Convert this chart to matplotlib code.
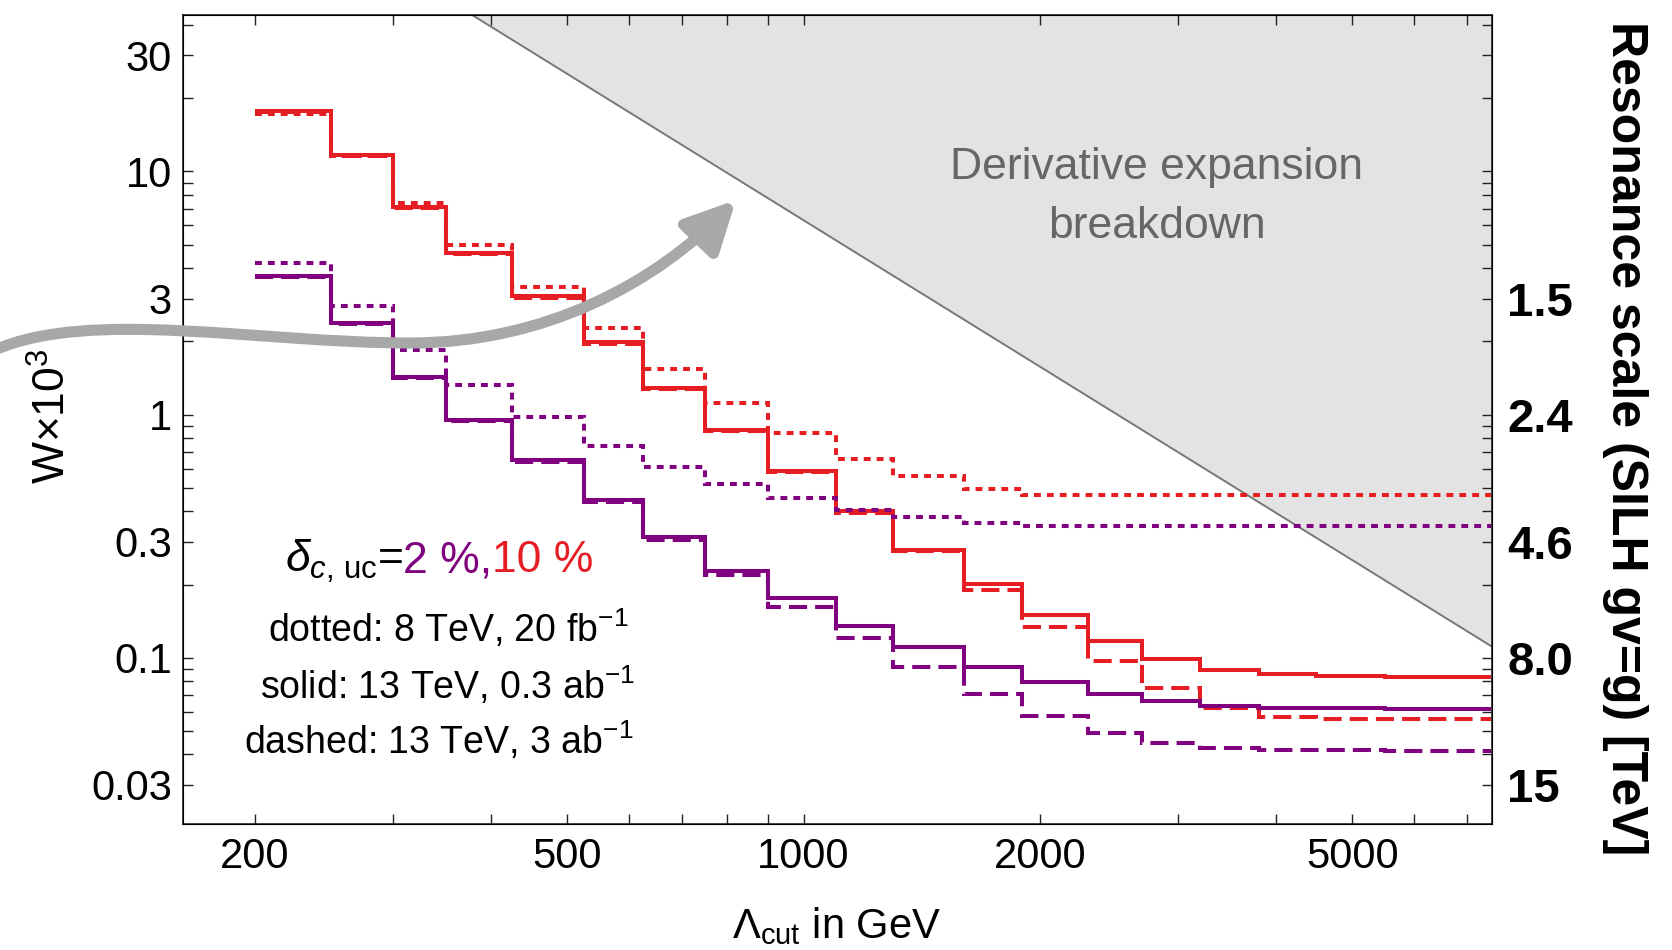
import numpy as np
import matplotlib
matplotlib.use("Agg")
import matplotlib.pyplot as plt
from matplotlib.path import Path
from matplotlib.patches import FancyArrowPatch, ArrowStyle
from matplotlib.offsetbox import TextArea, HPacker, AnchoredOffsetbox
from matplotlib.ticker import NullFormatter

plt.rcParams["font.family"] = ["Liberation Sans", "DejaVu Sans"]
plt.rcParams["mathtext.fontset"] = "custom"
plt.rcParams["mathtext.rm"] = "Liberation Sans"
plt.rcParams["mathtext.it"] = "Liberation Sans:italic"
plt.rcParams["mathtext.bf"] = "Liberation Sans:bold"

RED = "#e61e24"
PURPLE = "#800080"
ARROW_GREY = "#a6a9a7"
SHADE = "#e3e3e3"

# Lambda_cut bin edges (GeV)
bin_edges = [200, 250, 300, 350, 425, 525, 625, 750, 900, 1100, 1300,
             1600, 1900, 2300, 2700, 3200, 3800, 4500, 5500, 7500]

# W x 10^3 per bin, delta = 10 % (red)
red_dotted = [17.3, 11.6, 7.45, 4.96, 3.36, 2.26, 1.546, 1.12, 0.843, 0.657,
              0.561, 0.494, 0.467, 0.467, 0.467, 0.467, 0.467, 0.467, 0.467]
red_solid = [17.8, 11.7, 7.16, 4.61, 3.06, 1.98, 1.29, 0.865, 0.588, 0.402,
             0.277, 0.201, 0.150, 0.117, 0.099, 0.089, 0.0855, 0.084, 0.0835]
red_dashed = [17.6, 11.6, 7.1, 4.57, 3.03, 1.96, 1.27, 0.855, 0.58, 0.395,
              0.274, 0.190, 0.1334, 0.0967, 0.0748, 0.0622, 0.0572, 0.0561, 0.0559]

# delta = 2 % (purple)
purple_dotted = [4.21, 2.79, 1.846, 1.32, 0.98, 0.743, 0.611, 0.519, 0.455, 0.406,
                 0.380, 0.357, 0.348, 0.348, 0.348, 0.348, 0.348, 0.348, 0.348]
purple_solid = [3.72, 2.38, 1.433, 0.951, 0.651, 0.446, 0.313, 0.228, 0.1756, 0.1355,
                0.1111, 0.0912, 0.0793, 0.0708, 0.0663, 0.0635, 0.0622, 0.0619, 0.0617]
purple_dashed = [3.68, 2.35, 1.42, 0.94, 0.64, 0.438, 0.305, 0.219, 0.162, 0.121,
                 0.0918, 0.0709, 0.0575, 0.0489, 0.0444, 0.0424, 0.0417, 0.0416, 0.0415]

# derivative expansion breakdown: W x 10^3 = coef / Lambda^2
BREAKDOWN_COEF = 6.3e6

x_major = [200, 500, 1000, 2000, 5000]
x_minor = [300, 400, 600, 700, 800, 900, 3000, 4000, 6000, 7000]
y_major = [30, 10, 3, 1, 0.3, 0.1, 0.03]
y_major_labels = ["30", "10", "3", "1", "0.3", "0.1", "0.03"]
y_minor = [40, 20, 9, 8, 7, 6, 5, 4, 2, 0.9, 0.8, 0.7, 0.6, 0.5, 0.4, 0.2,
           0.09, 0.08, 0.07, 0.06, 0.05, 0.04]
right_labels = ["", "", "1.5", "2.4", "4.6", "8.0", "15"]

XLIM = (162, 7530)
YLIM = (0.0207, 44)

DOTTED = (0, (1.7, 1.5))
DASHED = (0, (4.5, 2.0))
LW = 2.9

fig = plt.figure(figsize=(16.72, 9.5), dpi=100)
ax = fig.add_axes([0.1094, 0.1326, 0.7829, 0.8516])

lam = np.geomspace(100, 10000, 300)
ax.fill_between(lam, BREAKDOWN_COEF / lam**2, 1e4, color=SHADE, lw=0, zorder=0)
ax.plot(lam, BREAKDOWN_COEF / lam**2, color="#777777", lw=1.4, zorder=1)

curves = [
    (red_dotted, RED, DOTTED),
    (red_solid, RED, "-"),
    (red_dashed, RED, DASHED),
    (purple_dotted, PURPLE, DOTTED),
    (purple_solid, PURPLE, "-"),
    (purple_dashed, PURPLE, DASHED),
]
for vals, col, ls in curves:
    ax.stairs(vals, bin_edges, baseline=None, color=col, lw=LW, linestyle=ls, zorder=3)

ax.set_xscale("log")
ax.set_yscale("log")
ax.set_xlim(*XLIM)
ax.set_ylim(*YLIM)

ax.set_xticks(x_major, [str(v) for v in x_major])
ax.set_xticks(x_minor, minor=True)
ax.xaxis.set_minor_formatter(NullFormatter())
ax.set_yticks(y_major, y_major_labels)
ax.set_yticks(y_minor, minor=True)
ax.yaxis.set_minor_formatter(NullFormatter())
ax.tick_params(which="both", direction="in", top=True, length=7, width=1.0,
               labelsize=30, color="#222222")
ax.tick_params(axis="x", pad=9)
ax.tick_params(axis="y", pad=8)
for sp in ax.spines.values():
    sp.set_linewidth(1.2)
    sp.set_color("#222222")

ax2 = ax.twinx()
ax2.set_yscale("log")
ax2.set_ylim(*YLIM)
ax2.set_yticks(y_major, right_labels)
ax2.set_yticks(y_minor, minor=True)
ax2.yaxis.set_minor_formatter(NullFormatter())
ax2.tick_params(which="both", direction="in", length=7, width=1.0,
                labelsize=34, pad=11, color="#222222")
for lab in ax2.get_yticklabels():
    lab.set_fontweight("bold")
ax2.set_ylabel("Resonance scale (SILH gv=g) [TeV]", rotation=-90,
               fontsize=36, fontweight="bold", va="center", ha="center")
ax2.yaxis.set_label_coords(1.102, 0.477)

ax.set_ylabel("W×10$^{3}$", fontsize=32, va="center", ha="center")
ax.yaxis.set_label_coords(-0.099, 0.504)
ax.set_xlabel("Λ$_{\\mathrm{cut}}$ in GeV", fontsize=30, va="top")
ax.xaxis.set_label_coords(0.4996, -0.10)

ax.text(0.744, 0.775, "Derivative expansion\nbreakdown", transform=ax.transAxes,
        ha="center", va="center", fontsize=32, color="#666666", linespacing=1.55)

# delta line with coloured parts
parts = [
    TextArea(r"$\delta_{c,\,\mathrm{uc}}$=", textprops=dict(fontsize=32, color="black")),
    TextArea("2 %,", textprops=dict(fontsize=32, color=PURPLE)),
    TextArea("10 %", textprops=dict(fontsize=32, color=RED)),
]
box = HPacker(children=parts, align="baseline", pad=0, sep=0)
anch = AnchoredOffsetbox(loc="center", child=box, bbox_to_anchor=(0.1956, 0.324),
                         bbox_transform=ax.transAxes, frameon=False, pad=0, borderpad=0)
ax.add_artist(anch)

legend_lines = [
    ("dotted: 8 TeV, 20 fb$^{-1}$", 0.2024, 0.241),
    ("solid: 13 TeV, 0.3 ab$^{-1}$", 0.2024, 0.1706),
    ("dashed: 13 TeV, 3 ab$^{-1}$", 0.1956, 0.1026),
]
for txt, tx, ty in legend_lines:
    ax.text(tx, ty, txt, transform=ax.transAxes, ha="center", va="center", fontsize=27)

# curvy grey arrow (pixel nodes of the figure, y measured from top)
arrow_nodes = [(-5, 350), (90, 308), (260, 343), (410, 343),
               (545, 343), (656, 283), (736, 200)]
W_PX, H_PX = 1672, 950
verts = [(x / W_PX, 1 - y / H_PX) for x, y in arrow_nodes]
codes = [Path.MOVETO] + [Path.CURVE4] * 6
arrow = FancyArrowPatch(path=Path(verts, codes),
                        arrowstyle=ArrowStyle("-|>", head_length=30, head_width=15),
                        color=ARROW_GREY, lw=8, transform=fig.transFigure,
                        mutation_scale=1, zorder=10)
fig.add_artist(arrow)

fig.savefig("out.png", dpi=100)
